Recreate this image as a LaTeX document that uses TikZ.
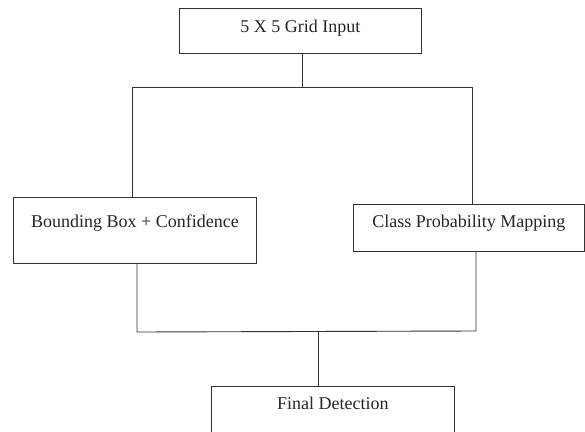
\documentclass[tikz,border=0pt]{standalone}
\usepackage{fontspec}
\setmainfont{Liberation Serif}
\begin{document}
\begin{tikzpicture}[x=1pt,y=1pt,
  box/.style={draw=black!80, line width=0.9pt, inner sep=0pt, align=center,
    text=black!85, font=\fontsize{18}{20}\selectfont},
  wire/.style={draw=black!80, line width=0.9pt}]
\useasboundingbox (0,0) rectangle (585,-431);
\clip (0,0) rectangle (585,-431);
% boxes: position = (center x, baseline-independent); use anchor north west
\node[box, anchor=north west, minimum width=242pt, text height=24pt, text depth=21pt] (grid) at (179,-8) {5 X 5 Grid Input};
\node[box, anchor=north west, minimum width=243pt, text height=30pt, text depth=36pt] (bbox) at (13,-197) {Bounding Box + Confidence};
\node[box, anchor=north west, minimum width=231pt, text height=23pt, text depth=24pt] (cls) at (353,-204) {Class Probability Mapping};
\node[box, anchor=north west, minimum width=243pt, text height=23pt, text depth=31pt] (final) at (211,-386) {Final Detection};
% junctions
\coordinate (j1) at (302,-87);
\coordinate (jL) at (132,-87);
\coordinate (jR) at (472,-87);
\coordinate (kL) at (137,-332);
\coordinate (kR) at (476,-331);
\coordinate (k1) at (318,-331.5);
% connectors
\draw[wire] (j1 |- grid.south) -- (j1);
\draw[wire] (jL) -- (jR);
\draw[wire] (jL) -- (jL |- bbox.north);
\draw[wire] (jR) -- (jR |- cls.north);
\draw[wire] (kL |- bbox.south) -- (kL) -- (kR) -- (kR |- cls.south);
\draw[wire] (k1) -- (k1 |- final.north);
\end{tikzpicture}
\end{document}
